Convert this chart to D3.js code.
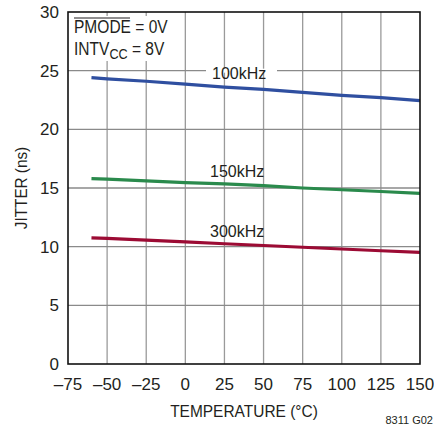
<!DOCTYPE html>
<html>
<head>
<meta charset="utf-8">
<script src="https://cdn.jsdelivr.net/npm/d3@7"></script>
<style>
  body { margin: 0; background: #fff; }
  svg text { font-family: "Liberation Sans", Arial, sans-serif; fill: #231f20; }
</style>
</head>
<body>
<div id="chart"></div>
<script>
// temperatures (°C) where the curves were read
const temps = [-60, -50, -25, 0, 25, 50, 75, 100, 125, 150];
// jitter (ns) per switching frequency
const jitter100k = [24.4, 24.3, 24.1, 23.85, 23.6, 23.4, 23.15, 22.9, 22.7, 22.45];
const jitter150k = [15.8, 15.75, 15.6, 15.45, 15.35, 15.2, 15.0, 14.85, 14.7, 14.55];
const jitter300k = [10.75, 10.7, 10.55, 10.4, 10.25, 10.1, 9.95, 9.8, 9.65, 9.52];
const seriesNames = ["100kHz", "150kHz", "300kHz"];
const xTicks = [-75, -50, -25, 0, 25, 50, 75, 100, 125, 150];
const yTicks = [0, 5, 10, 15, 20, 25, 30];

const width = 434, height = 429;
const margin = {left: 68, right: 14, top: 12, bottom: 65};

const svg = d3.select("#chart").append("svg")
    .attr("width", width)
    .attr("height", height);

const x = d3.scaleLinear().domain([-75, 150]).range([margin.left, width - margin.right]);
const y = d3.scaleLinear().domain([0, 30]).range([height - margin.bottom, margin.top]);

// narrow text: the datasheet face is condensed, so squeeze it horizontally
function narrowText(sel, px, py, sx) {
    return sel.append("text")
        .attr("transform", "translate(" + px + "," + py + ") scale(" + sx + ",1)");
}

// grid
svg.append("g").selectAll("line.v")
    .data(xTicks.slice(1, -1))
    .join("line")
    .attr("x1", d => x(d)).attr("x2", d => x(d))
    .attr("y1", y(0)).attr("y2", y(30))
    .attr("stroke", "#9a9a9a").attr("stroke-width", 1.3);
svg.append("g").selectAll("line.h")
    .data(yTicks.slice(1, -1))
    .join("line")
    .attr("x1", x(-75)).attr("x2", x(150))
    .attr("y1", d => y(d)).attr("y2", d => y(d))
    .attr("stroke", "#8a8a8a").attr("stroke-width", 1.3);

// white box behind the conditions text
svg.append("rect")
    .attr("x", x(-75) + 1).attr("y", y(30) + 4)
    .attr("width", 104).attr("height", 45)
    .attr("fill", "#fff");

// curves
const allSeries = [
    {name: seriesNames[0], values: jitter100k, color: "#2f4fa0"},
    {name: seriesNames[1], values: jitter150k, color: "#2a8a4c"},
    {name: seriesNames[2], values: jitter300k, color: "#9c0b34"}
];
const line = d3.line()
    .x((d, i) => x(temps[i]))
    .y(d => y(d));
svg.append("g").selectAll("path")
    .data(allSeries)
    .join("path")
    .attr("d", d => line(d.values))
    .attr("fill", "none")
    .attr("stroke", d => d.color)
    .attr("stroke-width", 3.2);

// curve labels (100kHz sits on the 25 gridline, so it gets a white backing)
svg.append("rect")
    .attr("x", 206).attr("y", y(25) - 2)
    .attr("width", 71).attr("height", 4)
    .attr("fill", "#fff");
const labelPos = [[212, 79], [210, 177], [210, 237]];
svg.append("g").selectAll("text")
    .data(allSeries)
    .join("text")
    .attr("x", (d, i) => labelPos[i][0])
    .attr("y", (d, i) => labelPos[i][1])
    .attr("font-size", 16)
    .text(d => d.name);

// frame
svg.append("rect")
    .attr("x", x(-75)).attr("y", y(30))
    .attr("width", x(150) - x(-75)).attr("height", y(0) - y(30))
    .attr("fill", "none").attr("stroke", "#111").attr("stroke-width", 1.6);

// axes labels
svg.append("g").selectAll("text")
    .data(yTicks)
    .join("text")
    .attr("x", x(-75) - 9)
    .attr("y", d => y(d) + 6)
    .attr("text-anchor", "end")
    .attr("font-size", 17)
    .text(d => d);
svg.append("g").selectAll("text")
    .data(xTicks)
    .join("text")
    .attr("x", d => x(d))
    .attr("y", y(0) + 26)
    .attr("text-anchor", "middle")
    .attr("font-size", 17)
    .text(d => d < 0 ? "\u2013" + Math.abs(d) : d);

narrowText(svg, (x(-75) + x(150)) / 2, 417, 0.91)
    .attr("text-anchor", "middle")
    .attr("font-size", 17)
    .text("TEMPERATURE (°C)");
svg.append("g")
    .attr("transform", "translate(27," + y(15) + ") rotate(-90)")
    .call(g => narrowText(g, 0, 0, 0.9)
        .attr("text-anchor", "middle")
        .attr("font-size", 17)
        .text("JITTER (ns)"));
svg.append("text")
    .attr("x", 433).attr("y", 424)
    .attr("text-anchor", "end")
    .attr("font-size", 11)
    .text("8311 G02");

// conditions
const cond = svg.append("g").attr("font-size", 18.5);
narrowText(cond, 74, 33, 0.84).text("PMODE = 0V");
cond.append("line")
    .attr("x1", 74).attr("x2", 130)
    .attr("y1", 18).attr("y2", 18)
    .attr("stroke", "#231f20").attr("stroke-width", 1.1);
narrowText(cond, 74, 55, 0.84)
    .html('INTV<tspan dy="4" font-size="15">CC</tspan><tspan dy="-4"> = 8V</tspan>');
</script>
</body>
</html>
